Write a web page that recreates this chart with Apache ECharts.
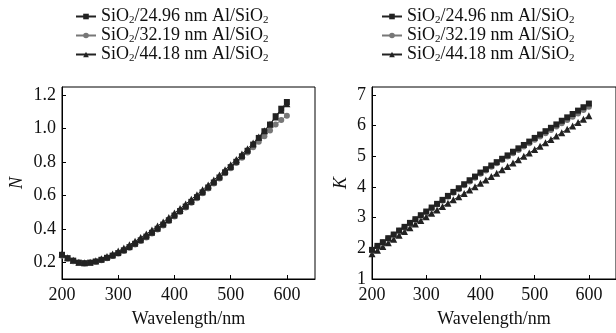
<!DOCTYPE html>
<html>
<head>
<meta charset="utf-8">
<script src="https://cdn.jsdelivr.net/npm/echarts@6/dist/echarts.min.js"></script>
<style>
  html, body { margin: 0; padding: 0; background: #fff; }
  #chart { width: 616px; height: 333px; }
</style>
</head>
<body>
<div id="chart"></div>
<script>
const wavelengths = [200,210,220,230,240,250,260,270,280,290,300,310,320,330,340,350,360,370,380,390,400,
  410,420,430,440,450,460,470,480,490,500,510,520,530,540,550,560,570,580,590,600];

const seriesNames = ['SiO2/24.96 nm Al/SiO2', 'SiO2/32.19 nm Al/SiO2', 'SiO2/44.18 nm Al/SiO2'];

// refractive index N
const nSample1 = [0.245,0.225,0.210,0.198,0.195,0.198,0.205,0.215,0.227,0.240,0.255,0.272,0.291,0.311,0.332,0.354,0.377,0.401,0.426,0.452,0.480,
  0.507,0.534,0.562,0.590,0.619,0.648,0.678,0.708,0.739,0.770,0.802,0.835,0.868,0.905,0.945,0.985,1.025,1.075,1.120,1.160];
const nSample2 = [0.240,0.222,0.207,0.196,0.193,0.196,0.203,0.213,0.225,0.238,0.252,0.268,0.287,0.307,0.327,0.349,0.372,0.396,0.421,0.447,0.474,
  0.501,0.528,0.556,0.584,0.613,0.642,0.672,0.702,0.733,0.764,0.795,0.826,0.857,0.889,0.922,0.955,0.990,1.025,1.052,1.078];
const nSample3 = [0.250,0.228,0.212,0.200,0.197,0.201,0.209,0.221,0.235,0.250,0.267,0.285,0.305,0.326,0.348,0.370,0.393,0.417,0.442,0.468,0.495,
  0.522,0.549,0.577,0.605,0.634,0.663,0.693,0.723,0.754,0.785,0.816,0.848,0.880,0.914,0.950,0.988,1.027,1.070,1.110,1.150];

// extinction coefficient K
const kSample1 = [1.95,2.08,2.20,2.33,2.45,2.58,2.70,2.83,2.95,3.08,3.20,3.33,3.45,3.58,3.71,3.84,3.96,4.09,4.22,4.34,4.47,
  4.58,4.70,4.81,4.92,5.03,5.15,5.26,5.37,5.48,5.60,5.71,5.82,5.93,6.04,6.16,6.27,6.38,6.49,6.60,6.72];
const kSample2 = [1.94,2.07,2.19,2.32,2.44,2.57,2.69,2.81,2.93,3.06,3.18,3.31,3.43,3.55,3.68,3.81,3.93,4.06,4.18,4.30,4.43,
  4.54,4.66,4.77,4.88,4.99,5.10,5.21,5.32,5.43,5.54,5.65,5.75,5.86,5.97,6.08,6.18,6.29,6.40,6.51,6.62];
const kSample3 = [1.82,1.94,2.06,2.18,2.30,2.43,2.55,2.67,2.79,2.91,3.03,3.14,3.25,3.36,3.47,3.58,3.68,3.79,3.90,4.01,4.12,
  4.23,4.34,4.45,4.56,4.67,4.78,4.89,5.00,5.11,5.22,5.33,5.44,5.55,5.66,5.77,5.88,5.99,6.10,6.21,6.32];

const xTicks = [200, 300, 400, 500, 600];
const nTicks = [0.2, 0.4, 0.6, 0.8, 1.0, 1.2];
const kTicks = [1, 2, 3, 4, 5, 6, 7];

const FONT = 'Liberation Serif';
const INK = '#111';
const styles = [
  { symbol: 'rect', size: 6, color: '#222' },
  { symbol: 'circle', size: 6, color: '#777' },
  { symbol: 'triangle', size: 7, color: '#222' }
];

const pairs = ys => wavelengths.map((w, i) => [w, ys[i]]);

function makeSeries(grid, data) {
  return data.map((ys, i) => ({
    name: seriesNames[i],
    type: 'line',
    xAxisIndex: grid,
    yAxisIndex: grid,
    data: pairs(ys),
    symbol: styles[i].symbol,
    symbolSize: styles[i].size,
    showSymbol: true,
    z: 5 - i,
    lineStyle: { color: styles[i].color, width: 1 },
    itemStyle: { color: styles[i].color },
    animation: false
  }));
}

function legendAt(left) {
  return {
    orient: 'vertical',
    left: left,
    top: 2,
    itemWidth: 20,
    itemHeight: 7,
    itemGap: 0,
    data: seriesNames,
    formatter: name => name.replace(/SiO2/g, 'SiO{s|2}'),
    textStyle: {
      fontFamily: FONT, fontSize: 18, color: INK, lineHeight: 19,
      rich: { s: { fontFamily: FONT, fontSize: 11, lineHeight: 11, verticalAlign: 'bottom', color: INK } }
    }
  };
}

function xAxisFor(grid) {
  return {
    type: 'value', gridIndex: grid, min: 200, max: 650,
    name: 'Wavelength/nm', nameLocation: 'middle', nameGap: 31,
    nameTextStyle: { fontFamily: FONT, fontSize: 18, color: INK },
    splitLine: { show: false },
    axisLine: { lineStyle: { color: '#000', width: 1 } },
    axisTick: { inside: true, length: 4, customValues: xTicks, lineStyle: { color: '#000' } },
    axisLabel: { customValues: xTicks, fontFamily: FONT, fontSize: 18, color: INK, margin: 7 }
  };
}

function yAxisFor(grid, name, min, max, ticks, gap, fmt) {
  return {
    type: 'value', gridIndex: grid, min: min, max: max,
    name: name, nameLocation: 'middle', nameGap: gap, nameRotate: 90,
    nameTextStyle: { fontFamily: FONT, fontSize: 18, fontStyle: 'italic', color: INK },
    splitLine: { show: false },
    axisLine: { show: true, lineStyle: { color: '#000', width: 1 } },
    axisTick: { inside: true, length: 4, customValues: ticks, lineStyle: { color: '#000' } },
    axisLabel: { customValues: ticks, formatter: fmt, fontFamily: FONT, fontSize: 18, color: INK, margin: 6 }
  };
}

const chart = echarts.init(document.getElementById('chart'), null, { renderer: 'canvas' });
chart.setOption({
  backgroundColor: '#fff',
  animation: false,
  legend: [legendAt(70), legendAt(376)],
  grid: [
    { left: 62, top: 87, width: 253, height: 195, show: true, borderColor: '#000', borderWidth: 1 },
    { left: 372, top: 87, width: 253, height: 195, show: true, borderColor: '#000', borderWidth: 1 }
  ],
  xAxis: [xAxisFor(0), xAxisFor(1)],
  yAxis: [
    yAxisFor(0, 'N', 0.1, 1.25, nTicks, 36, v => v.toFixed(1)),
    yAxisFor(1, 'K', 1, 7.26, kTicks, 22, v => String(v))
  ],
  series: makeSeries(0, [nSample1, nSample2, nSample3]).concat(makeSeries(1, [kSample1, kSample2, kSample3]))
});
</script>
</body>
</html>
